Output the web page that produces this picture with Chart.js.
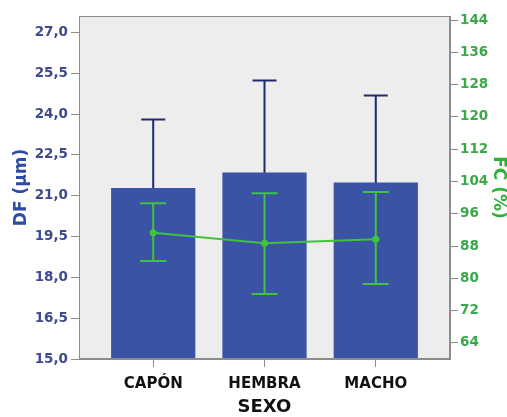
<!DOCTYPE html>
<html>
<head>
<meta charset="utf-8">
<script src="https://cdn.jsdelivr.net/npm/chart.js@4"></script>
<style>
  html, body { margin: 0; padding: 0; background: #ffffff; }
  #wrap { width: 507px; height: 417px; }
</style>
</head>
<body>
<div id="wrap"><canvas id="c" width="507" height="417"></canvas></div>
<script>
// Categories (sex groups)
const categories = ['CAPÓN', 'HEMBRA', 'MACHO'];

// DF (µm): mean and error-bar ends, left axis
const dfMeans = [21.28, 21.85, 21.48];
const dfUpper = [23.80, 25.23, 24.68];
const dfLower = [18.76, 18.47, 18.28];

// FC (%): mean and error-bar ends, right axis
const fcMeans = [91.3, 88.7, 89.7];
const fcUpper = [98.6, 101.1, 101.4];
const fcLower = [84.3, 76.1, 78.6];

// Tick values
const dfTicks = [15.0, 16.5, 18.0, 19.5, 21.0, 22.5, 24.0, 25.5, 27.0];
const fcTicks = [64, 72, 80, 88, 96, 104, 112, 120, 128, 136, 144];

const FONT = 'DejaVu Sans';
const BAR_BLUE = '#3a53a5';
const ERR_BLUE = '#1d2a6c';
const GREEN = '#3ec43e';
const AXIS_GRAY = '#8c8c8c';

// Plot background, frame and error bars
const errorBars = {
  id: 'errorBars',
  beforeDatasetsDraw(chart) {
    const { ctx, chartArea: a, scales } = chart;
    ctx.save();
    ctx.fillStyle = '#ededed';
    ctx.fillRect(a.left, a.top, a.right - a.left, a.bottom - a.top);
    // DF whiskers sit behind the bars
    ctx.strokeStyle = ERR_BLUE;
    ctx.lineWidth = 2;
    categories.forEach((c, i) => {
      const x = scales.x.getPixelForValue(i);
      const yt = scales.y.getPixelForValue(dfUpper[i]);
      const yb = scales.y.getPixelForValue(dfLower[i]);
      ctx.beginPath();
      ctx.moveTo(x, yt); ctx.lineTo(x, yb);
      ctx.moveTo(x - 12, yt); ctx.lineTo(x + 12, yt);
      ctx.moveTo(x - 12, yb); ctx.lineTo(x + 12, yb);
      ctx.stroke();
    });
    ctx.restore();
  },
  afterDatasetDraw(chart, args) {
    if (args.index !== 0) return;
    const { ctx, scales } = chart;
    ctx.save();
    ctx.strokeStyle = GREEN;
    ctx.lineWidth = 2;
    categories.forEach((c, i) => {
      const x = scales.x.getPixelForValue(i);
      const yt = scales.y1.getPixelForValue(fcUpper[i]);
      const yb = scales.y1.getPixelForValue(fcLower[i]);
      ctx.beginPath();
      ctx.moveTo(x, yt); ctx.lineTo(x, yb);
      ctx.moveTo(x - 13, yt); ctx.lineTo(x + 13, yt);
      ctx.moveTo(x - 13, yb); ctx.lineTo(x + 13, yb);
      ctx.stroke();
    });
    ctx.restore();
  },
  afterDraw(chart) {
    const { ctx, chartArea: a } = chart;
    ctx.save();
    ctx.strokeStyle = AXIS_GRAY;
    ctx.lineWidth = 1;
    ctx.strokeRect(a.left + 0.5, a.top + 0.5, a.right - a.left - 1, a.bottom - a.top - 1);
    ctx.restore();
  }
};

const fmtComma = v => v.toFixed(1).replace('.', ',');

new Chart(document.getElementById('c'), {
  type: 'bar',
  data: {
    datasets: [
      {
        type: 'bar',
        label: 'DF',
        data: categories.map((c, i) => ({ x: i, y: dfMeans[i] })),
        yAxisID: 'y',
        backgroundColor: BAR_BLUE,
        borderWidth: 0,
        categoryPercentage: 0.757,
        barPercentage: 1,
        order: 1
      },
      {
        type: 'line',
        label: 'FC',
        data: categories.map((c, i) => ({ x: i, y: fcMeans[i] })),
        yAxisID: 'y1',
        borderColor: GREEN,
        backgroundColor: GREEN,
        borderWidth: 2,
        pointRadius: 3.5,
        pointBorderWidth: 0,
        tension: 0,
        order: 0
      }
    ]
  },
  options: {
    responsive: false,
    devicePixelRatio: 1,
    animation: false,
    layout: { padding: { top: 16, left: 0, right: 0, bottom: 0 } },
    plugins: { legend: { display: false }, tooltip: { enabled: false } },
    scales: {
      x: {
        type: 'linear',
        min: -0.667,
        max: 2.667,
        offset: false,
        afterFit: s => { s.height = 58; },
        afterBuildTicks: s => { s.ticks = categories.map((c, i) => ({ value: i })); },
        ticks: {
          callback: v => categories[v],
          color: '#111111',
          font: { family: FONT, size: 15, weight: 'bold' },
          padding: 8,
          maxRotation: 0,
          autoSkip: false
        },
        grid: { drawOnChartArea: false, offset: false, tickLength: 8, color: AXIS_GRAY },
        border: { color: AXIS_GRAY },
        title: {
          display: true,
          text: 'SEXO',
          color: '#111111',
          font: { family: FONT, size: 18, weight: 'bold', lineHeight: 1 },
          padding: { top: 0, bottom: 1 }
        }
      },
      y: {
        position: 'left',
        min: 15,
        max: 27.6,
        afterFit: s => { s.width = 79; },
        afterBuildTicks: s => { s.ticks = dfTicks.map(v => ({ value: v })); },
        ticks: {
          callback: v => fmtComma(v),
          color: '#3d4a8c',
          font: { family: FONT, size: 13.5, weight: 'bold' },
          padding: 3
        },
        grid: { drawOnChartArea: false, tickLength: 8, color: AXIS_GRAY },
        border: { color: AXIS_GRAY },
        title: {
          display: true,
          text: 'DF (µm)',
          color: '#2c4aa6',
          font: { family: FONT, size: 17, weight: 'bold', lineHeight: 1 },
          padding: { top: 13, bottom: 0 }
        }
      },
      y1: {
        position: 'right',
        min: 60,
        max: 145,
        afterFit: s => { s.width = 57; },
        afterBuildTicks: s => { s.ticks = fcTicks.map(v => ({ value: v })); },
        ticks: {
          callback: v => String(v),
          color: '#3aa848',
          font: { family: FONT, size: 13.5, weight: 'bold' },
          padding: 2
        },
        grid: { drawOnChartArea: false, tickLength: 8, color: AXIS_GRAY },
        border: { color: AXIS_GRAY },
        title: {
          display: true,
          text: 'FC (%)',
          color: '#2eb03c',
          font: { family: FONT, size: 17, weight: 'bold', lineHeight: 1 },
          padding: { top: 0.5, bottom: 0 }
        }
      }
    }
  },
  plugins: [errorBars]
});
</script>
</body>
</html>
